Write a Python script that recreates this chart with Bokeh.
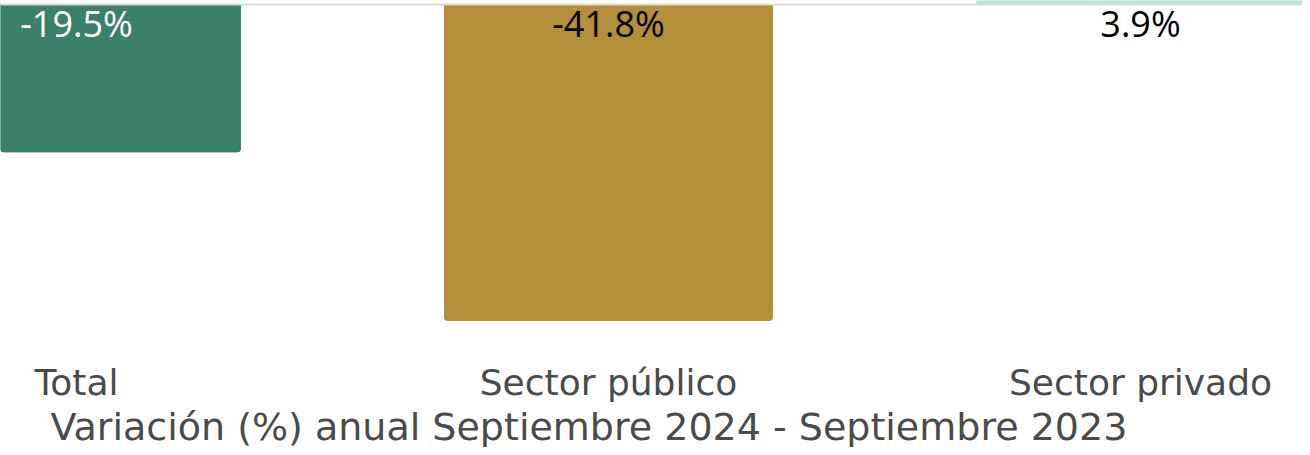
from bokeh.plotting import figure
from bokeh.models import ColumnDataSource, Span, FixedTicker, Range1d, Title
from bokeh.core.properties import value
from bokeh.embed import file_html
from bokeh.resources import INLINE

categories = ["Total", "Sector público", "Sector privado"]
values = [-19.5, -41.8, 3.9]
colors = ["#3a806a", "#b38f3a", "#b3e6d3"]
label_colors = ["#ffffff", "#000000", "#000000"]
axis_title = "Variación (%) anual Septiembre 2024 - Septiembre 2023"

xs = list(range(len(categories)))
src = ColumnDataSource(dict(
    x=xs, top=[max(v, 0) for v in values], bottom=[min(v, 0) for v in values],
    color=colors, label=[f"{v}%" for v in values], lcolor=label_colors,
))

p = figure(width=1302, height=447, output_backend="svg", toolbar_location=None,
           x_range=Range1d(-0.1429, 2.3045), y_range=Range1d(-43.78, 0.529),
           min_border_top=0, min_border_left=0, min_border_right=0, min_border_bottom=112)

p.vbar(x="x", top="top", bottom="bottom", width=0.6165, color="color", source=src,
       border_radius=(0, 0, 3, 3))
p.add_layout(Span(location=0, dimension="width", line_color="#d9d9d9", line_width=2))

p.text(x="x", y=0, text="label", text_color="lcolor", source=src,
       text_font=value("Open Sans"), text_font_size="36px",
       text_align="center", text_baseline="alphabetic", y_offset=19)

p.yaxis.visible = False
p.grid.visible = False
p.outline_line_color = None
ax = p.xaxis[0]
ax.ticker = FixedTicker(ticks=xs)
ax.major_label_overrides = {i: c for i, c in zip(xs, categories)}
ax.axis_line_color = None
ax.major_tick_line_color = None
ax.minor_tick_line_color = None
ax.major_tick_out = 0
ax.major_label_text_font = "DejaVu Sans"
ax.major_label_text_font_size = "36px"
ax.major_label_text_color = "#4a4a4a"
ax.major_label_standoff = 26

p.add_layout(Title(text=axis_title, align="left", offset=50, standoff=-6,
                   text_font="DejaVu Sans", text_font_size="38px",
                   text_font_style="normal", text_color="#4a4a4a"), "below")

open("out.html", "w").write(file_html(p, INLINE))
